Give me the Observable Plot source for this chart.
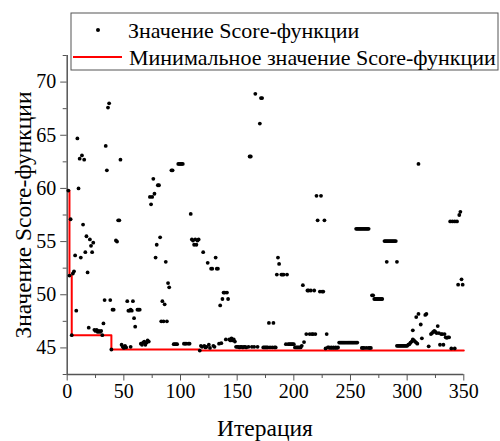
<!DOCTYPE html>
<html>
<head>
<meta charset="utf-8">
<script src="https://cdn.jsdelivr.net/npm/d3@7"></script>
<script src="https://cdn.jsdelivr.net/npm/@observablehq/plot@0.6"></script>
<style>
  body { margin: 0; background: #fff; }
  #chart { width: 500px; height: 441px; }
</style>
</head>
<body>
<div id="chart"></div>
<script>
// Score-function value at each iteration of the search
const scoreIter = [
  1, 2, 3, 4, 5, 6, 7, 8, 9, 10, 11, 12, 13, 14, 15, 16, 17, 18, 19, 20,
  21, 22, 23, 24, 25, 26, 27, 28, 29, 30, 31, 32, 33, 34, 35, 36, 37, 38, 39, 40,
  41, 43, 44, 45, 46, 47, 48, 49, 50, 51, 52, 53, 54, 55, 56, 56, 57, 58, 59, 60,
  62, 63, 64, 65, 66, 67, 68, 69, 70, 71, 72, 73, 74, 75, 76, 77, 78, 79, 80, 81,
  82, 83, 84, 85, 86, 87, 88, 89, 90, 92, 93, 94, 95, 96, 97, 98, 99, 100, 101, 102,
  103, 104, 105, 107, 108, 109, 110, 111, 112, 113, 114, 115, 116, 117, 118, 119, 120, 121, 122, 123,
  124, 125, 126, 127, 128, 129, 130, 131, 132, 133, 134, 135, 136, 137, 138, 139, 140, 141, 142, 143,
  144, 145, 146, 147, 148, 149, 150, 151, 152, 153, 154, 155, 156, 157, 158, 160, 161, 162, 163, 165,
  166, 168, 170, 171, 172, 173, 174, 175, 176, 177, 178, 179, 181, 182, 183, 184, 185, 186, 187, 189,
  190, 191, 193, 194, 195, 196, 197, 198, 199, 200, 201, 202, 203, 204, 205, 206, 207, 208, 209, 211,
  212, 213, 214, 215, 216, 217, 218, 219, 220, 221, 223, 224, 225, 226, 227, 228, 229, 230, 231, 232,
  233, 234, 235, 236, 237, 238, 239, 240, 241, 242, 243, 244, 245, 246, 247, 248, 249, 250, 251, 252,
  253, 254, 255, 256, 255, 256, 257, 258, 259, 260, 261, 262, 263, 264, 265, 266, 260, 261, 262, 264,
  266, 267, 268, 269, 270, 271, 272, 273, 274, 275, 276, 277, 278, 280, 281, 282, 283, 284, 285, 286,
  287, 288, 289, 290, 282, 291, 291, 292, 293, 294, 295, 296, 297, 298, 299, 300, 301, 302, 303, 304,
  305, 306, 307, 308, 309, 305, 308, 310, 312, 313, 316, 317, 319, 310, 321, 322, 323, 324, 325, 326,
  327, 328, 329, 330, 331, 332, 333, 334, 335, 336, 337, 338, 340, 342, 344, 339, 342, 345, 346, 347,
  348, 349
];
const scoreValue = [
  59.8, 51.8, 57.1, 46.2, 52.0, 52.2, 53.7, 48.5, 64.7, 60.0, 62.8, 53.5, 63.1, 56.6, 62.7, 54.0, 55.5, 52.1, 46.9, 55.2,
  54.6, 54.0, 54.9, 46.7, 46.6, 46.7, 46.5, 46.6, 46.5, 46.6, 46.2, 47.3, 49.5, 64.0, 61.7, 67.6, 68.0, 49.5, 44.85, 48.6,
  48.6, 55.1, 55.0, 57.0, 57.0, 62.7, 45.3, 45.1, 45.0, 45.2, 45.05, 49.4, 48.5, 48.5, 45.1, 48.6, 48.5, 49.4, 47.8, 47.0,
  48.6, 48.6, 48.6, 45.4, 45.3, 45.5, 45.6, 45.3, 45.5, 45.7, 45.6, 59.2, 58.5, 59.2, 60.9, 59.5, 53.5, 54.7, 60.3, 60.3,
  55.4, 47.5, 49.4, 47.5, 49.1, 53.1, 47.5, 51.1, 50.7, 61.7, 61.7, 45.35, 45.35, 45.35, 45.35, 62.3, 62.3, 62.3, 62.3, 62.3,
  45.4, 45.4, 45.4, 45.4, 45.4, 57.6, 55.2, 55.1, 54.7, 55.2, 54.7, 55.1, 55.2, 44.75, 45.2, 45.1, 54.0, 45.2, 45.05, 45.1,
  53.0, 45.3, 45.0, 52.45, 52.45, 45.2, 45.1, 53.5, 52.45, 52.45, 45.4, 49.0, 45.45, 49.6, 50.2, 50.2, 45.8, 50.2, 49.6, 45.8,
  45.7, 45.9, 45.7, 45.8, 45.6, 45.1, 45.1, 45.1, 45.05, 45.1, 45.1, 45.05, 45.1, 45.1, 45.05, 45.1, 63.0, 63.0, 45.1, 45.1,
  68.9, 45.1, 66.1, 68.5, 68.5, 45.05, 45.05, 45.05, 45.05, 45.05, 47.35, 45.05, 45.05, 47.35, 45.05, 45.05, 51.9, 53.5, 52.9, 51.9,
  51.9, 51.9, 45.35, 51.9, 45.35, 45.35, 45.35, 45.35, 45.35, 45.35, 45.05, 45.05, 45.05, 45.05, 45.05, 45.05, 45.2, 50.9, 45.55, 46.3,
  50.4, 50.4, 46.3, 50.4, 46.3, 46.3, 50.4, 46.3, 59.3, 57.0, 50.3, 59.3, 50.3, 50.3, 57.0, 44.95, 46.3, 45.05, 45.05, 45.0,
  45.05, 45.0, 45.05, 45.0, 45.05, 45.0, 45.05, 45.5, 45.5, 45.5, 45.5, 45.5, 45.5, 45.5, 45.5, 45.5, 45.5, 45.5, 45.5, 45.5,
  45.5, 45.5, 45.5, 45.5, 56.2, 56.2, 56.2, 56.2, 56.2, 56.2, 56.2, 56.2, 56.2, 56.2, 56.2, 56.2, 45.0, 45.0, 45.0, 45.0,
  45.0, 45.0, 45.0, 49.95, 49.95, 49.6, 49.6, 49.6, 49.6, 49.6, 49.6, 49.6, 49.6, 55.05, 55.05, 55.05, 55.05, 55.05, 55.05, 55.05,
  55.05, 55.05, 55.05, 55.05, 53.1, 53.1, 45.2, 45.2, 45.2, 45.2, 45.2, 45.2, 45.2, 45.2, 45.2, 45.2, 45.3, 45.35, 45.5, 45.6,
  45.8, 45.7, 45.6, 45.5, 45.4, 46.65, 47.9, 48.2, 47.2, 45.9, 48.1, 48.2, 45.15, 62.3, 46.3, 46.4, 46.5, 46.6, 46.5, 46.4,
  47.05, 46.4, 45.3, 46.3, 46.3, 45.3, 46.3, 46.0, 45.95, 46.0, 46.0, 56.9, 56.9, 56.9, 56.9, 44.95, 44.95, 50.95, 57.5, 57.8,
  51.45, 50.95
];

// Running minimum of the score function (step line)
const minIter  = [1, 2, 4, 39, 117, 350];
const minValue = [59.8, 51.8, 46.2, 44.85, 44.75, 44.75];

// Axis ticks
const xTicks      = [0, 50, 100, 150, 200, 250, 300, 350];
const xMinorTicks = [25, 75, 125, 175, 225, 275, 325];
const yTicks      = [45, 50, 55, 60, 65, 70];
const yMinorTicks = [42.5, 47.5, 52.5, 57.5, 62.5, 67.5, 72.5];

// Text
const xTitle = "Итерация";
const yTitle = "Значение Score-функции";
const legendScore = "Значение Score-функции";
const legendMin = "Минимальное значение Score-функции";

const scoreData = scoreIter.map((x, i) => ({iter: x, score: scoreValue[i]}));
const minData = minIter.map((x, i) => ({iter: x, score: minValue[i]}));

const axisColor = "#555";
const serif = "'Liberation Serif', 'Times New Roman', serif";

const svg = Plot.plot({
  width: 500,
  height: 441,
  marginLeft: 66.7,
  marginRight: 36.7,
  marginTop: 55,
  marginBottom: 67,
  style: {fontFamily: serif, fontSize: "20px", background: "white", color: "black"},
  x: {domain: [0, 350]},
  y: {domain: [42.5, 72.5]},
  marks: [
    Plot.ruleX([0], {stroke: axisColor, strokeWidth: 1.5}),
    Plot.ruleY([42.5], {stroke: axisColor, strokeWidth: 1.5}),
    Plot.axisX({ticks: xTicks, tickSize: 6.5, tickPadding: 3, stroke: axisColor, fill: "black", label: null, fontSize: 20}),
    Plot.axisX({ticks: xMinorTicks, tickSize: 4, stroke: axisColor, fill: "none", label: null}),
    Plot.axisY({ticks: yTicks, tickSize: 6.5, tickPadding: 4.5, stroke: axisColor, fill: "black", label: null, fontSize: 20}),
    Plot.axisY({ticks: yMinorTicks, tickSize: 4, stroke: axisColor, fill: "none", label: null}),
    Plot.line(minData, {x: "iter", y: "score", curve: "step-after", stroke: "#ff0000", strokeWidth: 2}),
    Plot.dot(scoreData, {x: "iter", y: "score", r: 1.9, fill: "black", stroke: null})
  ]
});

const root = d3.select(svg);

// Axis titles
root.append("text")
  .attr("x", 265).attr("y", 428).attr("dy", "0.35em")
  .attr("text-anchor", "middle")
  .style("font-family", serif).style("font-size", "23.5px").attr("fill", "black")
  .text(xTitle);
root.append("text")
  .attr("transform", "translate(22.5,215) rotate(-90)")
  .attr("dy", "0.35em")
  .attr("text-anchor", "middle")
  .style("font-family", serif).style("font-size", "23.5px").attr("fill", "black")
  .text(yTitle);

// Legend
const lg = root.append("g").attr("text-anchor", "start");
lg.append("rect")
  .attr("x", 71).attr("y", 13).attr("width", 427).attr("height", 57)
  .attr("fill", "white").attr("stroke", axisColor).attr("stroke-width", 1);
lg.append("circle").attr("cx", 98).attr("cy", 30).attr("r", 2).attr("fill", "black");
lg.append("text")
  .attr("x", 128).attr("y", 30).attr("dy", "0.35em")
  .attr("text-anchor", "start")
  .style("font-family", serif).style("font-size", "22px").attr("fill", "black")
  .text(legendScore);
lg.append("line")
  .attr("x1", 73).attr("x2", 122).attr("y1", 57).attr("y2", 57)
  .attr("stroke", "#ff0000").attr("stroke-width", 2);
lg.append("text")
  .attr("x", 129).attr("y", 57).attr("dy", "0.35em")
  .attr("text-anchor", "start")
  .style("font-family", serif).style("font-size", "22px").attr("fill", "black")
  .text(legendMin);

document.getElementById("chart").appendChild(svg);
</script>
</body>
</html>
